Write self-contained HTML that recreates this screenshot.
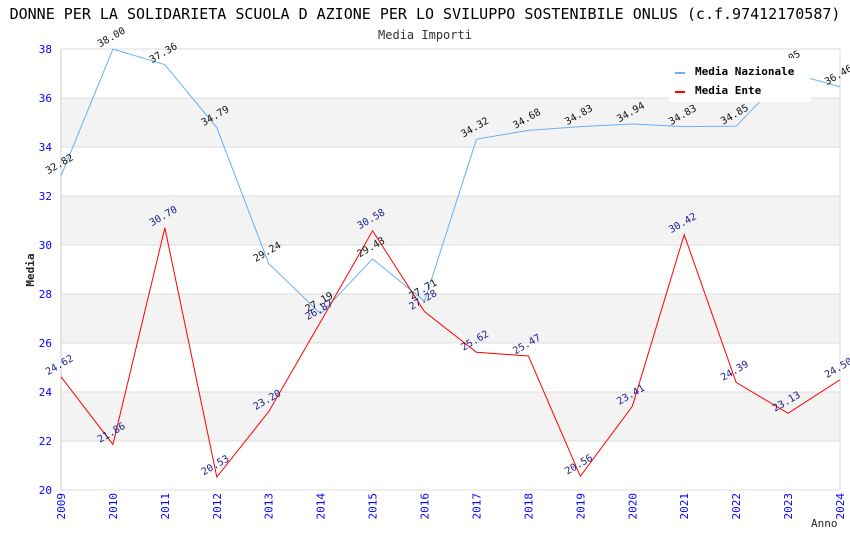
<!DOCTYPE html>
<html><head><meta charset="utf-8"><style>
body{margin:0;background:#fff}
svg{display:block;font-family:"DejaVu Sans Mono","Liberation Mono",monospace}
</style></head><body>
<svg id="chart" width="850" height="550" xmlns="http://www.w3.org/2000/svg">
<text x="425" y="19" text-anchor="middle" font-size="15" fill="#000">DONNE PER LA SOLIDARIETA SCUOLA D AZIONE PER LO SVILUPPO SOSTENIBILE ONLUS (c.f.97412170587)</text>
<text x="425" y="39" text-anchor="middle" font-size="12" fill="#333">Media Importi</text>
<text transform="translate(34,270) rotate(-90)" text-anchor="middle" font-size="11" font-weight="bold" fill="#222">Media</text>
<text x="811" y="527" font-size="11" fill="#222">Anno</text>
<g id="bands"></g><g id="grid"></g><g id="series"></g><g id="labels"></g>
<g>
<rect x="670" y="58" width="140" height="44" fill="#fff"/>
<g><rect x="675" y="72" width="10" height="2" fill="#6aaff0"/><text x="695" y="75" font-size="11" font-weight="bold" fill="#000">Media Nazionale</text></g>
<g><rect x="675" y="91" width="10" height="2" fill="red"/><text x="695" y="94" font-size="11" font-weight="bold" fill="#000">Media Ente</text></g>
</g>
</svg>
<script>
const years=[2009,2010,2011,2012,2013,2014,2015,2016,2017,2018,2019,2020,2021,2022,2023,2024];
const nazionale=[32.82,38.00,37.36,34.79,29.24,27.19,29.43,27.71,34.32,34.68,34.83,34.94,34.83,34.85,37.05,36.46];
const ente=[24.62,21.86,30.70,20.53,23.20,26.87,30.58,27.28,25.62,25.47,20.56,23.41,30.42,24.39,23.13,24.50];
const yTicks=[20,22,24,26,28,30,32,34,36,38];
const NS="http://www.w3.org/2000/svg";
const L=61,R=840,T=49,B=490,ymin=20,ymax=38;
const xs=i=>L+(R-L)*i/(years.length-1);
const ys=v=>B-(v-ymin)/(ymax-ymin)*(B-T);
function mk(t,a,p){const e=document.createElementNS(NS,t);for(const k in a)e.setAttribute(k,a[k]);p.appendChild(e);return e;}
const bands=document.getElementById('bands'),grid=document.getElementById('grid'),ser=document.getElementById('series'),lab=document.getElementById('labels');
for(let k=0;k<yTicks.length-1;k++){
  if(k%2===1){const b=mk('rect',{x:L,y:ys(yTicks[k+1]),width:R-L,height:ys(yTicks[k])-ys(yTicks[k+1]),fill:'#f3f3f3'},bands);
  
  }
}
yTicks.forEach(v=>{
  const l=mk('line',{x1:L,x2:R,y1:ys(v),y2:ys(v),stroke:'#ddd','stroke-width':1},grid);
  
  
  const t=mk('text',{x:L-9,y:ys(v)+4,'text-anchor':'end','font-size':11,fill:'#00f'},grid);t.textContent=v;
  
  
});
mk('line',{x1:L,x2:L,y1:T,y2:B,stroke:'#ccc'},grid);
mk('line',{x1:R,x2:R,y1:T,y2:B,stroke:'#ddd'},grid);
years.forEach((y,i)=>{
  const x=xs(i);
  const t=mk('text',{transform:`translate(${x+4},${B+3}) rotate(-90)`,'text-anchor':'end','font-size':11,fill:'#00f'},grid);t.textContent=y;
  
  
});
function series(vals,color,lcolor,name){
  const p=mk('polyline',{points:vals.map((v,i)=>xs(i)+','+ys(v)).join(' '),fill:'none',stroke:color,'stroke-width':1},ser);
  
  
  vals.forEach((v,i)=>{
    const x=xs(i),y=ys(v)-9;
    const t=mk('text',{transform:`translate(${x},${y}) rotate(-30)`,'text-anchor':'middle','font-size':10,fill:lcolor},lab);
    t.textContent=v.toFixed(2);
    
    
  });
}
series(nazionale,'#6aaff0','#111','nazionale');
series(ente,'red','#1a1a8c','ente');
</script>
</body></html>
